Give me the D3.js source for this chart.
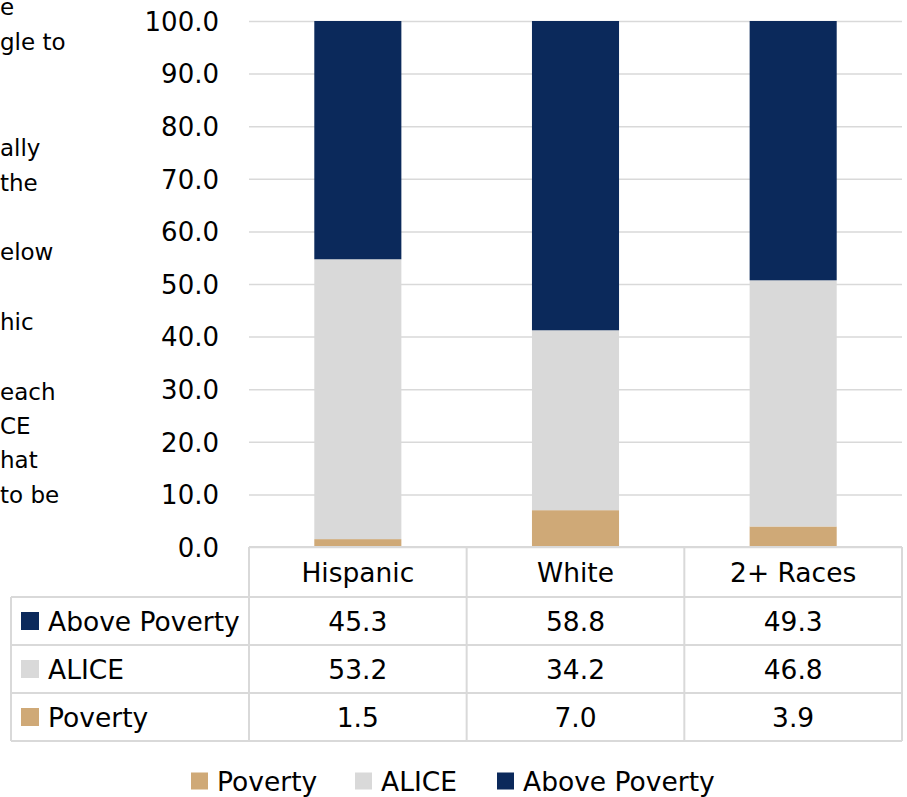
<!DOCTYPE html>
<html>
<head>
<meta charset="utf-8">
<script src="https://cdn.jsdelivr.net/npm/d3@7/dist/d3.min.js"></script>
<style>
  html, body { margin: 0; padding: 0; background: #fff; }
  svg { display: block; font-family: "DejaVu Sans", sans-serif; }
</style>
</head>
<body>
<svg id="chart" width="907" height="797"></svg>
<script>
// ---- data ----
const categories = ["Hispanic", "White", "2+ Races"];
const seriesNames = ["Poverty", "ALICE", "Above Poverty"];
const poverty = [1.5, 7.0, 3.9];
const alice = [53.2, 34.2, 46.8];
const abovePoverty = [45.3, 58.8, 49.3];
const yTicks = [0, 10, 20, 30, 40, 50, 60, 70, 80, 90, 100];
const sideText = [
  { t: "e", y: 15 }, { t: "gle to", y: 50 }, { t: "ally", y: 156 }, { t: "the", y: 191 },
  { t: "elow", y: 260 }, { t: "hic", y: 330 }, { t: "each", y: 400 }, { t: "CE", y: 434 },
  { t: "hat", y: 468 }, { t: "to be", y: 503 }
];

const colors = { "Poverty": "#cfa977", "ALICE": "#d9d9d9", "Above Poverty": "#0b295b" };
const seriesValues = { "Poverty": poverty, "ALICE": alice, "Above Poverty": abovePoverty };

const svg = d3.select("#chart");
const plotL = 249, plotR = 902, plotT = 21, plotB = 547;
const gridColor = "#d9d9d9";
const fs = 26.5;

// side text fragments
svg.append("g").selectAll("text").data(sideText).join("text")
  .attr("x", 0).attr("y", d => d.y)
  .attr("font-size", 23).attr("fill", "#000")
  .text(d => d.t);

const x = d3.scaleBand().domain(categories).range([plotL, plotR]).paddingInner(0).paddingOuter(0);
const y = d3.scaleLinear().domain([0, 100]).range([plotB, plotT]);

// y axis with gridlines
const yAxis = d3.axisLeft(y).tickValues(yTicks).tickFormat(d3.format(".1f"))
  .tickSize(-(plotR - plotL)).tickPadding(30);
const gy = svg.append("g").attr("transform", `translate(${plotL},0)`).call(yAxis);
gy.select(".domain").remove();
gy.selectAll(".tick line").attr("stroke", gridColor).attr("stroke-width", 1.5);
gy.selectAll(".tick text").attr("font-size", 26).attr("fill", "#000")
  .attr("font-family", "DejaVu Sans").attr("dy", "0.36em");

// stacked bars
const rows = categories.map((c, i) => {
  const o = { cat: c };
  seriesNames.forEach(s => o[s] = seriesValues[s][i]);
  return o;
});
const stack = d3.stack().keys(seriesNames)(rows);
const barW = x.bandwidth() * 0.4;
svg.append("g").selectAll("g").data(stack).join("g")
  .attr("fill", d => colors[d.key])
  .selectAll("rect").data(d => d).join("rect")
  .attr("x", d => x(d.data.cat) + (x.bandwidth() - barW) / 2)
  .attr("width", barW)
  .attr("y", d => y(d[1]))
  .attr("height", d => y(d[0]) - y(d[1]));

// data table
const tableL = 11;
const headerH = 50, rowH = 48;
const tableRows = ["Above Poverty", "ALICE", "Poverty"];
const tg = svg.append("g");
const lineAttr = sel => sel.attr("stroke", gridColor).attr("stroke-width", 2).attr("fill", "none");
const rowTop = plotB + headerH;
const tableBottom = rowTop + rowH * tableRows.length;

tg.append("line").attr("x1", plotL).attr("x2", plotR).attr("y1", plotB).attr("y2", plotB).call(lineAttr);
d3.range(tableRows.length + 1).forEach(i => {
  const yy = rowTop + i * rowH;
  tg.append("line").attr("x1", tableL).attr("x2", plotR).attr("y1", yy).attr("y2", yy).call(lineAttr);
});
tg.append("line").attr("x1", tableL).attr("x2", tableL).attr("y1", rowTop).attr("y2", tableBottom).call(lineAttr);
categories.forEach(c => {
  tg.append("line").attr("x1", x(c)).attr("x2", x(c)).attr("y1", plotB).attr("y2", tableBottom).call(lineAttr);
});
tg.append("line").attr("x1", plotR).attr("x2", plotR).attr("y1", plotB).attr("y2", tableBottom).call(lineAttr);

tg.selectAll("text.cat").data(categories).join("text").attr("class", "cat")
  .attr("x", d => x(d) + x.bandwidth() / 2).attr("y", plotB + headerH / 2 + 9.5)
  .attr("text-anchor", "middle").attr("font-size", fs).attr("fill", "#000").text(d => d);

tableRows.forEach((s, r) => {
  const cy = rowTop + r * rowH + rowH / 2;
  tg.append("rect").attr("x", 21).attr("y", cy - 9).attr("width", 18).attr("height", 18).attr("fill", colors[s]);
  tg.append("text").attr("x", 48).attr("y", cy + 9.5).attr("font-size", fs).attr("fill", "#000").text(s);
  categories.forEach((c, i) => {
    tg.append("text").attr("x", x(c) + x.bandwidth() / 2).attr("y", cy + 9.5)
      .attr("text-anchor", "middle").attr("font-size", fs).attr("fill", "#000")
      .text(d3.format(".1f")(seriesValues[s][i]));
  });
});

// bottom legend
const legendItems = [
  { name: "Poverty", x: 191 }, { name: "ALICE", x: 355 }, { name: "Above Poverty", x: 497 }
];
const lg = svg.append("g");
const legY = 781;
legendItems.forEach(it => {
  lg.append("rect").attr("x", it.x).attr("y", legY - 8.5).attr("width", 17).attr("height", 17).attr("fill", colors[it.name]);
  lg.append("text").attr("x", it.x + 26).attr("y", legY + 9.5).attr("font-size", fs).attr("fill", "#000").text(it.name);
});
</script>
</body>
</html>
